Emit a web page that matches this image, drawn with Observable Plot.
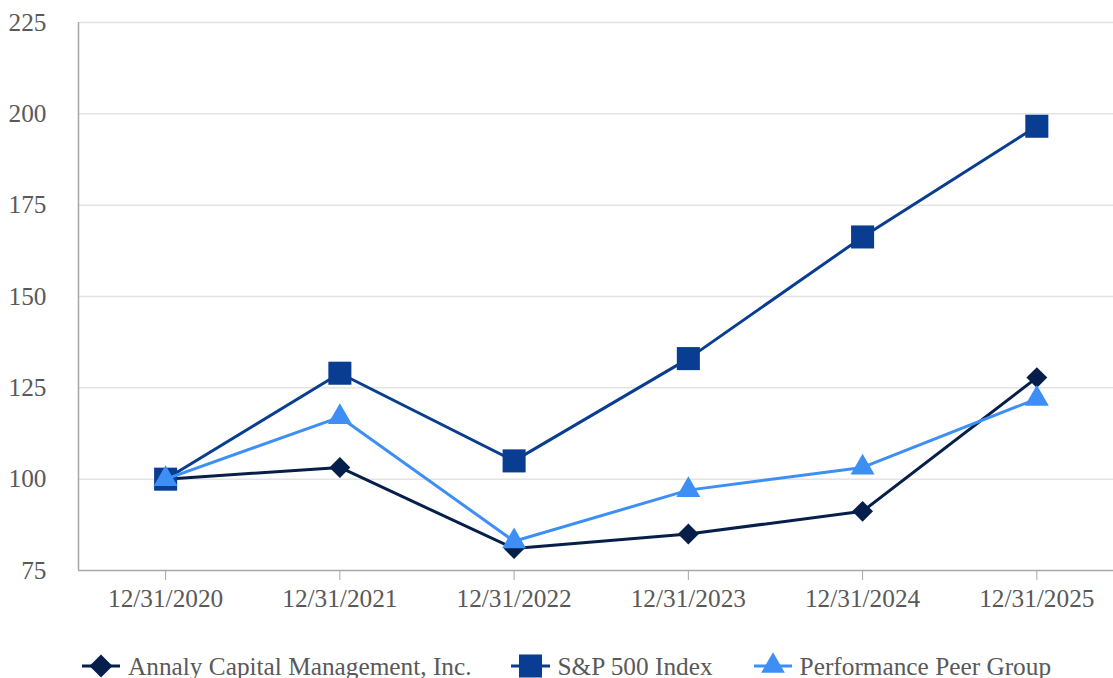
<!DOCTYPE html>
<html>
<head>
<meta charset="utf-8">
<script src="https://cdn.jsdelivr.net/npm/d3@7"></script>
<script src="https://cdn.jsdelivr.net/npm/@observablehq/plot@0.6"></script>
<style>
  html, body { margin: 0; padding: 0; background: #fff; }
  #chart svg { display: block; }
  #legend {
    height: 52px; display: flex; align-items: center;
    font-family: "Liberation Serif", "Times New Roman", serif;
    font-size: 25.3px; color: #595959; padding-left: 82px;
  }
  .item { display: flex; align-items: center; white-space: nowrap; }
  .item svg { display: block; margin-right: 8px; }
</style>
</head>
<body>
<div id="chart"></div>
<div id="legend"></div>
<script>
const categories = ["12/31/2020", "12/31/2021", "12/31/2022", "12/31/2023", "12/31/2024", "12/31/2025"];
const annaly = [100, 103.2, 81.0, 85.0, 91.2, 127.8];
const sp500  = [100, 129.0, 105.0, 133.0, 166.3, 196.6];
const peer   = [100, 117.0, 83.0, 97.0, 103.2, 122.0];
const seriesNames = ["Annaly Capital Management, Inc.", "S&P 500 Index", "Performance Peer Group"];
const yTicks = [75, 100, 125, 150, 175, 200, 225];

const colors = ["#061f4a", "#083d91", "#3d8ff5"];
const symbols = ["diamond2", "square", "triangle"];
const radii = [9.4, 13, 8.9];
const legendRadii = [10.4, 13, 8.8];
const seriesValues = [annaly, sp500, peer];

const year = c => +c.slice(-4);
const label = y => categories.find(c => year(c) === y);

const marks = [
  Plot.gridY(yTicks.filter(t => t > 75), {stroke: "#e3e3e3", strokeOpacity: 1, strokeWidth: 1.5}),
  Plot.axisY(yTicks, {tickSize: 0, tickPadding: 32, fontSize: 25.3, fill: "#595959", label: null}),
  Plot.axisX(categories.map(year), {tickSize: 10, tickPadding: 9, fontSize: 25.3, fill: "#595959", stroke: "#a6a6a6", tickFormat: label, label: null}),
  Plot.ruleY([75], {stroke: "#a6a6a6", strokeWidth: 1.5}),
  Plot.ruleX([2019.5], {stroke: "#a6a6a6", strokeWidth: 1.5})
];
[0, 1, 2].forEach(i => {
  const data = categories.map((c, j) => ({x: year(c), y: seriesValues[i][j]}));
  marks.push(Plot.line(data, {x: "x", y: "y", stroke: colors[i], strokeWidth: 3}));
  marks.push(Plot.dot(data, {x: "x", y: "y", symbol: () => symbols[i], fill: colors[i], stroke: "none", r: radii[i]}));
});

const plot = Plot.plot({
  width: 1113,
  height: 640,
  marginLeft: 78,
  marginRight: 0,
  marginTop: 22,
  marginBottom: 70,
  style: {fontFamily: "'Liberation Serif', 'Times New Roman', serif", background: "#fff", overflow: "visible"},
  x: {type: "linear", domain: [2019.5, 2025.44], axis: null},
  y: {domain: [75, 225], axis: null},
  symbol: {type: "identity"},
  marks
});
document.getElementById("chart").appendChild(plot);

// legend
const legend = d3.select("#legend");
const iconW = [38, 39, 38];
const gaps = [0, 39, 41];
const d3symbols = [d3.symbolDiamond2, d3.symbolSquare, d3.symbolTriangle];
seriesNames.forEach((name, i) => {
  const item = legend.append("div").attr("class", "item").style("margin-left", gaps[i] + "px");
  const w = iconW[i];
  const svg = item.append("svg").attr("width", w).attr("height", 30);
  svg.append("line").attr("x1", 0).attr("x2", w).attr("y1", 15).attr("y2", 15)
    .attr("stroke", colors[i]).attr("stroke-width", 3);
  svg.append("path").attr("transform", `translate(${w / 2},15)`)
    .attr("d", d3.symbol(d3symbols[i], Math.PI * legendRadii[i] * legendRadii[i])())
    .attr("fill", colors[i]);
  item.append("span").text(name);
});
</script>
</body>
</html>
